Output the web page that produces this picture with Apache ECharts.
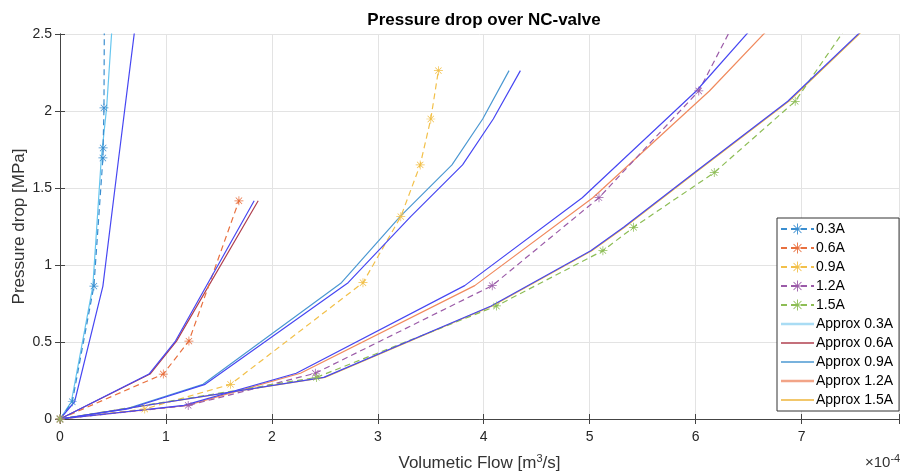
<!DOCTYPE html>
<html>
<head>
<meta charset="utf-8">
<script src="https://cdn.jsdelivr.net/npm/echarts@6/dist/echarts.min.js"></script>
<style>
  html, body { margin: 0; padding: 0; background: #fff; }
  #chart { width: 902px; height: 473px; }
</style>
</head>
<body>
<div id="chart"></div>
<script>
// measured flow (x, 1e-4 m3/s) vs pressure drop (MPa)
var p03 = [0, 0.112, 0.863, 1.695, 1.76, 2.02, 2.8];
var q03 = [0, 0.116, 0.32, 0.405, 0.407, 0.415, 0.42];
var approx03 = [0, 0.107, 0.31, 0.39, 0.40, 0.44, 0.516];
var fit03 = [0, 0.138, 0.405, 0.554, 0.566, 0.613, 0.755];

var p06 = [0, 0.292, 0.506, 1.417];
var q06 = [0, 0.975, 1.217, 1.689];
var approx06 = [0, 0.85, 1.10, 1.871];
var fit06 = [0, 0.84, 1.09, 1.833];

var p09 = [0, 0.065, 0.225, 0.885, 1.314, 1.65, 1.948, 2.262];
var q09 = [0, 0.80, 1.61, 2.86, 3.217, 3.40, 3.50, 3.572];
var approx09 = [0, 0.62, 1.35, 2.657, 3.21, 3.70, 3.99, 4.239];
var fit09 = [0, 0.64, 1.37, 2.72, 3.31, 3.80, 4.09, 4.346];

var p12 = [0, 0.088, 0.297, 0.866, 1.437, 2.13, 2.7];
var q12 = [0, 1.21, 2.41, 4.08, 5.088, 6.03, 6.46];
var approx12 = [0, 1.2, 2.27, 3.915, 5.03, 6.13, 6.92];
var fit12 = [0, 1.17, 2.23, 3.82, 4.93, 6.006, 6.74];

var p15 = [0, 0.27, 0.734, 1.093, 1.245, 1.60, 2.063, 2.7];
var q15 = [0, 2.42, 4.12, 5.125, 5.415, 6.176, 6.94, 7.58];
var approx15 = [0, 2.5, 4.08, 5.02, 5.33, 6.0, 6.88, 7.85];
var fit15 = [0, 2.49, 4.07, 5.01, 5.32, 5.99, 6.87, 7.84];

var xTicks = [0, 1, 2, 3, 4, 5, 6, 7];

var star = 'path://M9.2 0H10.8V20H9.2Z M0 9.2H20V10.8H0Z M2.4 3.5L3.5 2.4L17.6 16.5L16.5 17.6Z M16.5 2.4L17.6 3.5L3.5 17.6L2.4 16.5Z';
// plain line for the legend (the M moves keep the box 40x16)
var thinLine = 'path://M0 0M40 16M0 7.1H40V8.9H0Z';
var thickLine = 'path://M0 0M40 16M0 6.6H40V9.4H0Z';

function zip(xs, ys) {
    return xs.map(function (x, i) { return [x, ys[i]]; });
}

function measured(name, xs, ys, color) {
    return {
        name: name, type: 'line', data: zip(xs, ys),
        symbol: star, symbolSize: 9, showSymbol: true,
        itemStyle: { color: color },
        lineStyle: { color: color, width: 1.2, type: [6, 4] }
    };
}
function approx(name, xs, ys, color, z) {
    return {
        name: name, type: 'line', data: zip(xs, ys), symbol: 'none', z: z || 2,
        itemStyle: { color: color },
        lineStyle: { color: color, width: 1.2 }
    };
}

var chart = echarts.init(document.getElementById('chart'));

var option = {
    animation: false,
    textStyle: { fontFamily: 'Liberation Sans' },
    title: {
        text: 'Pressure drop over NC-valve',
        left: 479, top: 7, textAlign: 'center',
        textStyle: { fontSize: 17, fontWeight: 'bold', color: '#000' }
    },
    grid: { left: 60, right: 3, top: 34, bottom: 54, outerBoundsMode: 'none', containLabel: false },
    legend: {
        orient: 'vertical', left: 777, top: 218,
        padding: [4, 6, 4, 3], itemGap: 5, itemWidth: 33, itemHeight: 14,
        borderColor: '#333', borderWidth: 1, backgroundColor: '#fff',
        textStyle: { fontSize: 14, color: '#000', padding: [0, 0, 0, -3] },
        data: ['0.3A', '0.6A', '0.9A', '1.2A', '1.5A',
            { name: 'Approx 0.3A', icon: thickLine, itemStyle: { color: '#a9dcf4' } },
            { name: 'Approx 0.6A', icon: thinLine },
            { name: 'Approx 0.9A', icon: thinLine },
            { name: 'Approx 1.2A', icon: thickLine, itemStyle: { color: '#f2a487' } },
            { name: 'Approx 1.5A', icon: thinLine }]
    },
    xAxis: [{
        type: 'value', min: 0, max: 7.92, interval: 1,
        name: 'Volumetic Flow [m{s|3}/s]', nameLocation: 'middle', nameGap: 34, nameMoveOverlap: false,
        nameTextStyle: { fontSize: 17, color: '#333', rich: { s: { fontSize: 11, verticalAlign: 'top', padding: [0, 0, 9, 0], color: '#333' } } },
        axisLine: { lineStyle: { color: '#444' } },
        axisTick: { inside: true, length: 5, lineStyle: { color: '#444' } },
        axisLabel: {
            fontSize: 14, color: '#262626', margin: 11,
            formatter: function (v) { return xTicks.indexOf(v) >= 0 ? String(v) : ''; }
        },
        splitLine: { show: true, lineStyle: { color: '#e3e3e3' } }
    }, {
        type: 'value', position: 'top', min: 0, max: 7.92, interval: 1,
        axisLine: { lineStyle: { color: '#444' } },
        axisTick: { inside: true, length: 5, lineStyle: { color: '#444' } },
        axisLabel: { show: false }, splitLine: { show: false }
    }],
    yAxis: [{
        type: 'value', min: 0, max: 2.5, interval: 0.5,
        name: 'Pressure drop [MPa]', nameLocation: 'middle', nameGap: 32, nameRotate: 90, nameMoveOverlap: false,
        nameTextStyle: { fontSize: 17, color: '#333' },
        axisLine: { show: true, lineStyle: { color: '#444' } },
        axisTick: { show: true, inside: true, length: 5, lineStyle: { color: '#444' } },
        axisLabel: { fontSize: 14, color: '#262626', margin: 8 },
        splitLine: { show: true, lineStyle: { color: '#e3e3e3' } }
    }, {
        type: 'value', position: 'right', min: 0, max: 2.5, interval: 0.5,
        axisLine: { show: true, lineStyle: { color: '#444' } },
        axisTick: { show: true, inside: true, length: 5, lineStyle: { color: '#444' } },
        axisLabel: { show: false }, splitLine: { show: false }
    }],
    graphic: [{
        type: 'text', left: 865, top: 453,
        style: {
            text: '×10{s|-4}', fontSize: 15, fill: '#333', fontFamily: 'Liberation Sans',
            rich: { s: { fontSize: 11, verticalAlign: 'top', padding: [0, 0, 8, 0], fill: '#333' } }
        }
    }],
    series: [
        measured('0.3A', q03, p03, '#3b8ed0'),
        measured('0.6A', q06, p06, '#e8703f'),
        measured('0.9A', q09, p09, '#f2c04a'),
        measured('1.2A', q12, p12, '#9b5ba8'),
        measured('1.5A', q15, p15, '#8dbd55'),
        approx('Approx 0.3A', approx03, p03, '#66c6ef'),
        approx('Approx 0.6A', approx06, p06, '#b0404f'),
        approx('Approx 0.9A', approx09, p09, '#4b98d2'),
        approx('Approx 1.2A', approx12, p12, '#f08a5e'),
        approx('Approx 1.5A', approx15, p15, '#eeb53a'),
        approx('fit 0.3A', fit03, p03, '#4747f2', 3),
        approx('fit 0.6A', fit06, p06, '#4747f2', 3),
        approx('fit 0.9A', fit09, p09, '#4747f2', 3),
        approx('fit 1.2A', fit12, p12, '#4747f2', 3),
        approx('fit 1.5A', fit15, p15, '#4747f2', 3)
    ]
};

chart.setOption(option);
</script>
</body>
</html>
